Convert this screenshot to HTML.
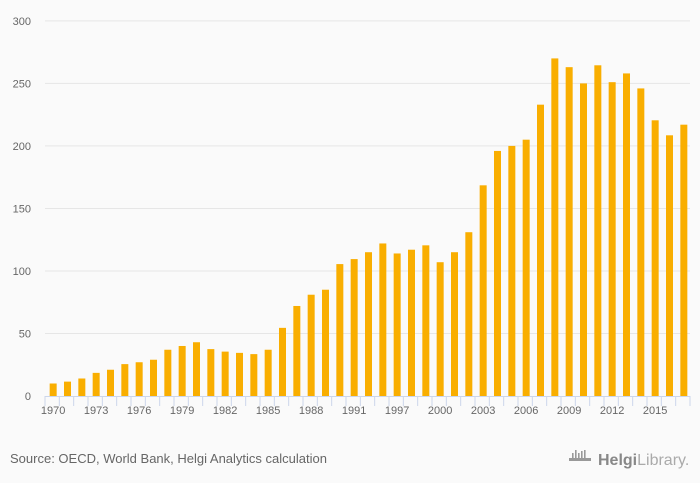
<!DOCTYPE html>
<html><head><meta charset="utf-8">
<style>
body{margin:0;background:#fafafa;font-family:"Liberation Sans",sans-serif;}
#wrap{position:relative;width:700px;height:483px;background:#fafafa;overflow:hidden}
svg text{font-family:"Liberation Sans",sans-serif}
</style></head>
<body>
<div id="wrap">
<svg id="chart" width="700" height="483"></svg>
</div>
<script>
const categories = ["1970","1971","1972","1973","1974","1975","1976","1977","1978","1979","1980","1981","1982","1983","1984","1985","1986","1987","1988","1989","1990","1991","1995","1996","1997","1998","1999","2000","2001","2002","2003","2004","2005","2006","2007","2008","2009","2010","2011","2012","2013","2014","2015","2016","2017"];
const values = [10,11.5,14,18.5,21,25.5,27,29,37,40,43,37.5,35.5,34.5,33.5,37,54.5,72,81,85,105.5,109.5,115,122,114,117,120.5,107,115,131,168.5,196,200,205,233,270,263,250,264.5,251,258,246,220.5,208.5,217];
const yTicks = [0,50,100,150,200,250,300];
const xLabels = ["1970","1973","1976","1979","1982","1985","1988","1991","1997","2000","2003","2006","2009","2012","2015"];

const NS="http://www.w3.org/2000/svg";
const svg=document.getElementById('chart');
const X0=45,X1=690,Y0=396,Y1=20.9,YMAX=300;
const band=(X1-X0)/categories.length;
const y=v=>Y0-(v/YMAX)*(Y0-Y1);
const xc=i=>X0+band*(i+0.5)+1;
function mk(tag,attrs){const e=document.createElementNS(NS,tag);for(const k in attrs)e.setAttribute(k,attrs[k]);svg.appendChild(e);return e;}

yTicks.forEach(t=>{
  if(t>0){const g=mk('line',{x1:X0,x2:X1,y1:y(t),y2:y(t),stroke:'#e6e6e6','stroke-width':1});
  
  }
  const tx=mk('text',{x:31,y:y(t)+4,'text-anchor':'end','font-size':11,fill:'#666'});
  tx.textContent=t;
  
  
});

values.forEach((v,i)=>{
  const r=mk('rect',{x:xc(i)-3.5,y:y(v),width:7,height:Y0-y(v),fill:'#f9ae00'});
  
  
});

const ax=mk('line',{x1:X0,x2:X1,y1:Y0+0.5,y2:Y0+0.5,stroke:'#ccd6eb','stroke-width':1});


for(let i=0;i<=categories.length;i++){
  const tk=mk('line',{x1:X0+band*i,x2:X0+band*i,y1:Y0,y2:Y0+10,stroke:'#ccd6eb','stroke-width':1});
  
  
}
categories.forEach((c,i)=>{
  if(xLabels.indexOf(c)<0)return;
  const tx=mk('text',{x:xc(i),y:414,'text-anchor':'middle','font-size':11,fill:'#666'});
  tx.textContent=c;
  
  
});

const src=mk('text',{x:10,y:463,'font-size':13,fill:'#666'});
src.textContent='Source: OECD, World Bank, Helgi Analytics calculation';



const g=document.createElementNS(NS,'g');svg.appendChild(g);


[[572,453,5],[575,450,8],[578,453,5],[581,451,7],[584,450,8]].forEach(a=>{
  const r=document.createElementNS(NS,'rect');r.setAttribute('x',a[0]);r.setAttribute('y',a[1]);r.setAttribute('width',1.6);r.setAttribute('height',a[2]);r.setAttribute('fill','#999');g.appendChild(r);
});
const base=document.createElementNS(NS,'rect');base.setAttribute('x',569);base.setAttribute('y',458);base.setAttribute('width',22);base.setAttribute('height',3);base.setAttribute('fill','#999');g.appendChild(base);
const lt=document.createElementNS(NS,'text');lt.setAttribute('x',598);lt.setAttribute('y',465);lt.setAttribute('font-size',16);lt.setAttribute('fill','#888');lt.setAttribute('font-family','Liberation Serif, serif');
lt.innerHTML='<tspan font-weight="bold">Helgi</tspan><tspan fill="#aaa">Library.</tspan>';
g.appendChild(lt);
</script>
</body></html>
